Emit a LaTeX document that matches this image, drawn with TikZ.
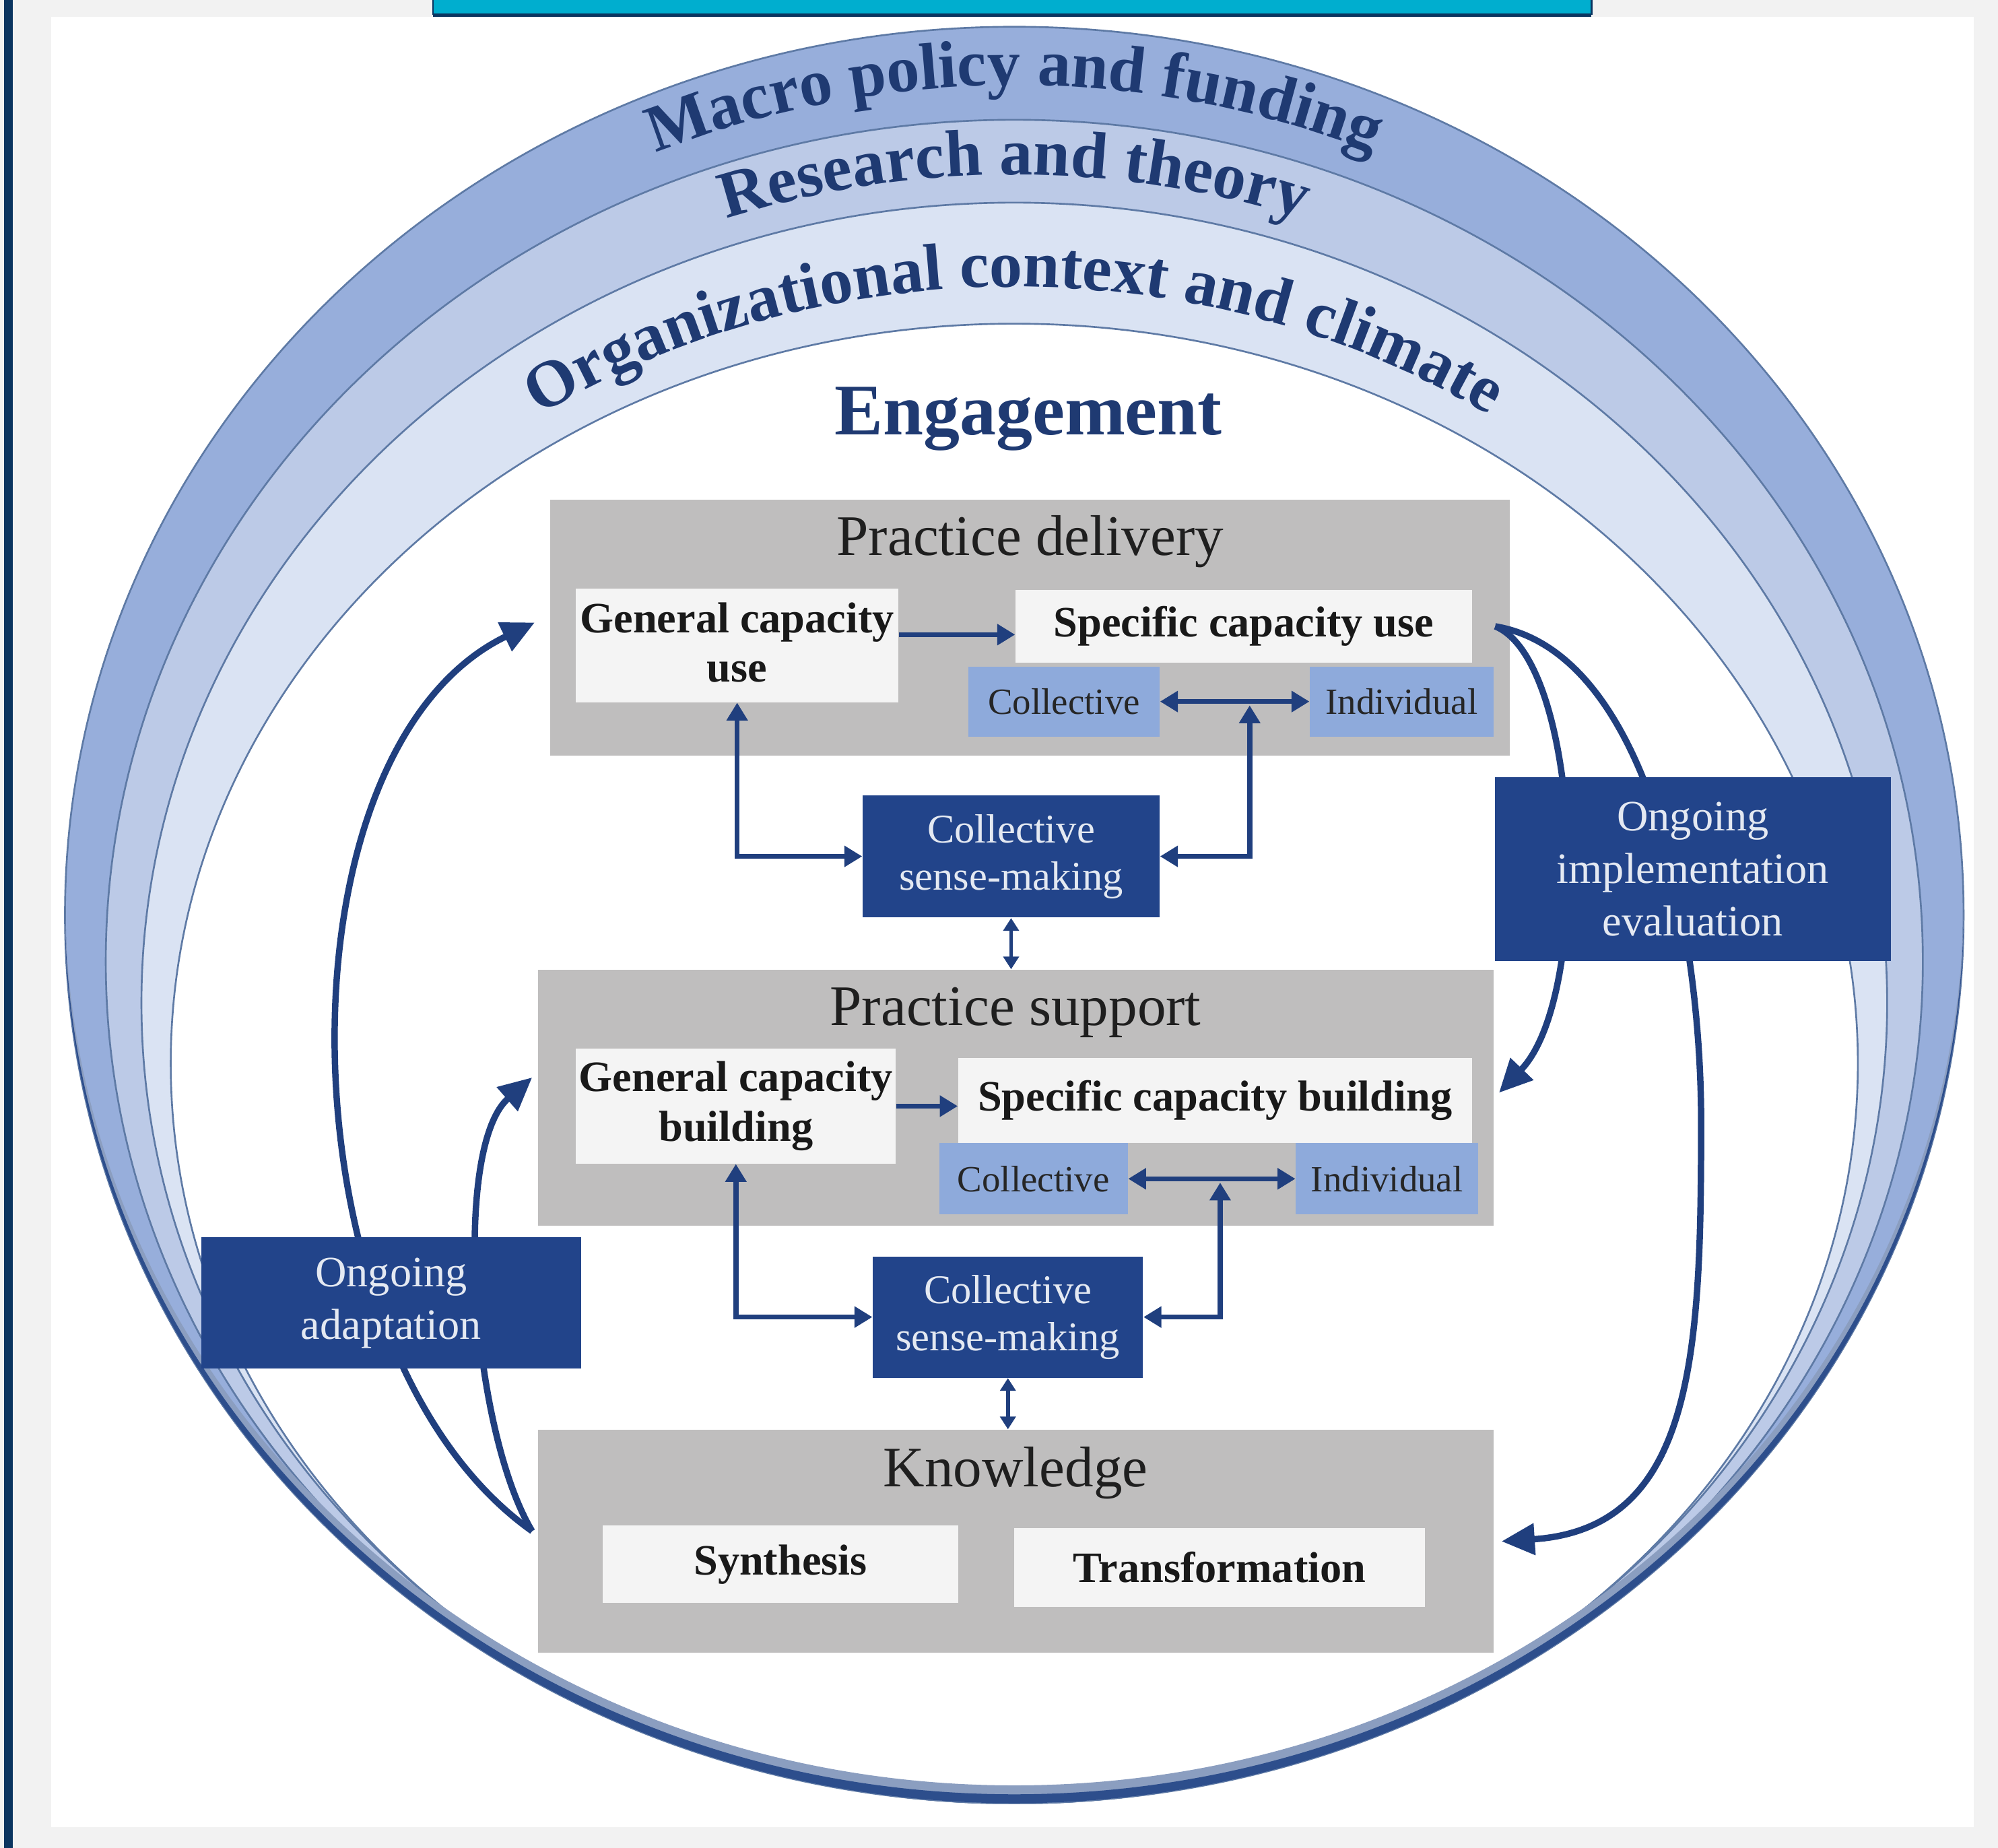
\documentclass[tikz,border=0pt]{standalone}
\usepackage{fontspec}
\setmainfont{Liberation Serif}
\usetikzlibrary{arrows.meta,calc,decorations.text}

\definecolor{pagebg}{HTML}{F2F2F2}
\definecolor{navybar}{HTML}{0B3560}
\definecolor{bannercyan}{HTML}{00AECF}
\definecolor{ringA}{HTML}{97AEDB}
\definecolor{ringB}{HTML}{BCCAE7}
\definecolor{ringC}{HTML}{DAE3F3}
\definecolor{ringline}{HTML}{5E7AA5}
\definecolor{ringbase}{HTML}{2D4E8C}
\definecolor{ringtext}{HTML}{1F3A72}
\definecolor{grayblock}{HTML}{BFBEBE}
\definecolor{paleblock}{HTML}{F4F4F4}
\definecolor{tagblue}{HTML}{8EAADB}
\definecolor{deepblue}{HTML}{22448A}
\definecolor{paletext}{HTML}{E4E9F2}
\definecolor{flow}{HTML}{203F7E}

\tikzset{
  block/.style={fill=grayblock, inner sep=0pt},
  pale/.style={fill=paleblock, inner sep=0pt, align=center, text=black!90,
    font=\fontsize{17}{19.5}\selectfont\bfseries},
  tag/.style={fill=tagblue, inner sep=0pt, text=black!85,
    font=\fontsize{14.5}{17}\selectfont},
  deep/.style={fill=deepblue, inner sep=0pt, align=center, text=paletext},
  title/.style={anchor=base, inner sep=0pt, text=black!88,
    font=\fontsize{22.5}{27}\selectfont},
  flowarc/.style={draw=flow, line width=2.5pt, -{Triangle[length=13pt,width=12pt]}},
  link/.style={draw=flow, line width=2pt,
    {Triangle[length=7pt,width=8pt]}-{Triangle[length=7pt,width=8pt]}},
  onelink/.style={draw=flow, line width=2pt, -{Triangle[length=7pt,width=8pt]}},
  tinylink/.style={draw=flow, line width=1.5pt,
    {Triangle[length=5pt,width=6pt]}-{Triangle[length=5pt,width=6pt]}},
  ringlabel/.style={decorate, decoration={text along path, text align=center,
    text color=ringtext}}
}

\begin{document}
\begin{tikzpicture}[x=0.5pt,y=-0.5pt]
\useasboundingbox (0,0) rectangle (1568,1450);

% page, side bar, panel and banner
\fill[pagebg] (0,0) rectangle (1568,1450);
\fill[navybar] (3,0) rectangle (10,1450);
\fill[white] (40,13) rectangle (1549,1434);
\fill[bannercyan] (340,-2) rectangle (1249,11);
\draw[navybar, line width=0.6pt] (340,-2) -- (340,11) -- (1249,11) -- (1249,-2);
\draw[navybar, line width=1.2pt] (340,12) -- (1249,12);

% nested context rings, all touching at the bottom
\fill[ringA] (796,718) ellipse [x radius=745, y radius=697];
\fill[ringB] (796,754.5) ellipse [x radius=713, y radius=660.5];
\fill[ringC] (796,787) ellipse [x radius=685, y radius=628];
\fill[white] (796,834.5) ellipse [x radius=662, y radius=580.5];
\draw[ringline, line width=0.7pt] (796,718) ellipse [x radius=745, y radius=697];
\draw[ringline, line width=0.7pt] (796,754.5) ellipse [x radius=713, y radius=660.5];
\draw[ringline, line width=0.7pt] (796,787) ellipse [x radius=685, y radius=628];
\draw[ringline, line width=0.7pt] (796,834.5) ellipse [x radius=662, y radius=580.5];

% tapering dark rim where the rings meet at the bottom
\begin{scope}
  \clip (0,711) rectangle (1568,1450);
  \fill[ringbase!55!white, even odd rule]
    (796,718) ellipse [x radius=745, y radius=697]
    (796,704) ellipse [x radius=745, y radius=697];
\end{scope}
\begin{scope}
  \clip (0,714.5) rectangle (1568,1450);
  \fill[ringbase, even odd rule]
    (796,718) ellipse [x radius=745, y radius=697]
    (796,711) ellipse [x radius=745, y radius=697];
\end{scope}

% ring labels
\path[ringlabel, decoration={text={|\fontsize{26}{30}\selectfont\bfseries|Macro policy and funding}}]
  (796,741) ++(215:725 and 674) arc[start angle=215, end angle=325, x radius=725, y radius=674];
\path[ringlabel, decoration={text={|\fontsize{26}{30}\selectfont\bfseries|Research and theory}}]
  (796,776) ++(215:695 and 639) arc[start angle=215, end angle=325, x radius=695, y radius=639];
\path[ringlabel, decoration={text={|\fontsize{26}{30}\selectfont\bfseries|Organizational context and climate}}]
  (796,820) ++(215:669 and 595) arc[start angle=215, end angle=325, x radius=669, y radius=595];
\node[anchor=base, inner sep=0pt, text=ringtext, font=\fontsize{28.5}{32}\selectfont\bfseries]
  (eng) at (807,341) {Engagement};

% practice delivery
\node[block, minimum width=376.5pt, minimum height=100.5pt] (pd) at (808.5,492.5) {};
\node[title] (pdT) at ([yshift=-22pt]pd.north) {Practice delivery};
\node[pale, minimum width=126.5pt, minimum height=44.5pt] (gcu) at (578.5,506.5)
  {\raisebox{2.5pt}{General capacity}\\\raisebox{2.5pt}{use}};
\node[pale, minimum width=179pt, minimum height=28.5pt] (scu) at (976,491.5) {Specific capacity use};
\node[tag, minimum width=75pt, minimum height=27.5pt] (c1) at (835,550.5) {Collective};
\node[tag, minimum width=72pt, minimum height=27.5pt] (i1) at (1100,550.5) {Individual};
\node[deep, font=\fontsize{16}{18.5}\selectfont, minimum width=116.5pt, minimum height=48pt]
  (sm1) at (793.5,672) {Collective\\sense-making};

% practice support
\node[block, minimum width=375pt, minimum height=100.5pt] (ps) at (797,861.5) {};
\node[title] (psT) at ([yshift=-22pt]ps.north) {Practice support};
\node[pale, minimum width=125.5pt, minimum height=45pt] (gcb) at (577.5,868) {General capacity\\building};
\node[pale, minimum width=201.5pt, minimum height=33.5pt] (scb) at (953.5,863.5) {Specific capacity building};
\node[tag, minimum width=74pt, minimum height=28pt] (c2) at (811,925) {Collective};
\node[tag, minimum width=71.5pt, minimum height=28pt] (i2) at (1088.5,925) {Individual};
\node[deep, font=\fontsize{16}{18.5}\selectfont, minimum width=106pt, minimum height=47.5pt]
  (sm2) at (791,1033.5) {Collective\\sense-making};

% knowledge
\node[block, minimum width=375pt, minimum height=87.5pt] (kn) at (797,1209.5) {};
\node[title] (knT) at ([yshift=-22.5pt]kn.north) {Knowledge};
\node[pale, minimum width=139.5pt, minimum height=30.5pt] (syn) at (612.5,1227.5) {Synthesis};
\node[pale, minimum width=161pt, minimum height=31pt] (tra) at (957,1230) {Transformation};

% links inside the practice blocks
\coordinate (gcuR) at ([yshift=4.25pt]gcu.east);
\draw[onelink] (gcuR) -- (gcuR -| scu.west);
\draw[link] (c1) -- (i1);
\coordinate (ci1) at ($(c1.east)!0.6!(i1.west)$);
\draw[link, shorten >=1.5pt] (sm1.east) -| (ci1);
\draw[link] (sm1.west) -| (gcu.south);
\draw[tinylink] (sm1.south) -- (sm1.south |- ps.north);

\draw[onelink] (gcb.east) -- (gcb.east -| scb.west);
\draw[link] (c2) -- (i2);
\coordinate (ci2) at ($(c2.east)!0.55!(i2.west)$);
\draw[link, shorten >=1.5pt] (sm2.east) -| (ci2);
\draw[link] (sm2.west) -| (gcb.south);
\draw[tinylink] (sm2.south) -- (sm2.south |- kn.north);

% feedback loops
\coordinate (la) at ([xshift=-2pt,yshift=4pt]kn.west);
\coordinate (pdIn) at ([xshift=-6pt,yshift=2pt]pd.west);
\coordinate (psIn) at ([xshift=-2pt,yshift=8pt]ps.west);
\coordinate (ra) at ([xshift=9pt]scu.east);
\coordinate (psR) at ([xshift=2pt,yshift=2pt]ps.east);
\coordinate (knR) at ([xshift=3pt]kn.east);
\coordinate (rbend) at (1335,880);

\draw[flowarc] (la) .. controls +(-198,-140) and +(-210,101.5) .. (pdIn);
\draw[flowarc] (la) .. controls +(-48,-80) and +(-63,55) .. (psIn);
\draw[flowarc] (ra) .. controls +(67,27) and +(74,-77) .. (psR);
\draw[flowarc] (ra) .. controls +(120,20) and +(0,-150) .. (rbend)
  .. controls +(0,180) and +(152,-10) .. (knR);

% process labels on the loops
\node[deep, font=\fontsize{17}{20.5}\selectfont, minimum width=155.5pt, minimum height=72pt]
  (oie) at (1328.5,682) {Ongoing\\implementation\\evaluation};
\node[deep, font=\fontsize{17}{20.5}\selectfont, minimum width=149pt, minimum height=51.5pt]
  (oad) at (307,1022.5) {Ongoing\\adaptation};
\end{tikzpicture}
\end{document}
